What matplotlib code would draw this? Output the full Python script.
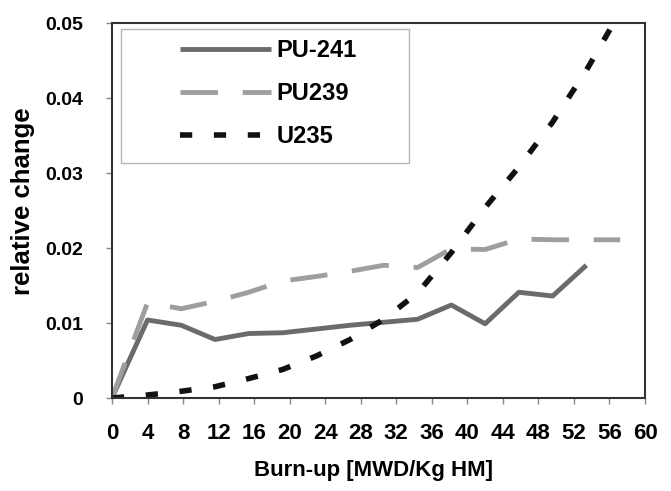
import matplotlib
matplotlib.use("Agg")
import matplotlib.pyplot as plt
from matplotlib.patches import Rectangle

plt.rcParams['font.family'] = ['Liberation Sans', 'DejaVu Sans']
plt.rcParams['font.weight'] = 'bold'

burnup = [0, 4, 7.8, 11.6, 15.4, 19.2, 23, 26.8, 30.6, 34.4, 38.2, 42, 45.8, 49.6, 53.4, 57.2]
pu241 = [0, 0.0104, 0.0097, 0.0078, 0.0086, 0.0087, 0.0092, 0.0097, 0.0101, 0.0105,
         0.0124, 0.0099, 0.0141, 0.0136, 0.0177]
pu239 = [0, 0.0127, 0.0119, 0.0129, 0.0141, 0.0156, 0.0162, 0.0169, 0.0177, 0.0174,
         0.0199, 0.0198, 0.0212, 0.0211, 0.0211, 0.0211]
u235 = [0, 0.0004, 0.0009, 0.0015, 0.0026, 0.0038, 0.0056, 0.0078, 0.0105, 0.0140,
        0.0194, 0.0254, 0.0308, 0.0368, 0.0437, 0.0515]
labels = ["PU-241", "PU239", "U235"]
xticks = list(range(0, 61, 4))
yticks = [0, 0.01, 0.02, 0.03, 0.04, 0.05]
ytick_labels = ["0", "0.01", "0.02", "0.03", "0.04", "0.05"]

fig = plt.figure(figsize=(6.71, 4.91), dpi=100)
ax = fig.add_axes([0.1669, 0.1894, 0.7944, 0.7637])

ax.plot(burnup[:len(pu241)], pu241, color='#6b6b6b', lw=3.5, solid_capstyle='butt', label=labels[0])
ax.plot(burnup[:len(pu239)], pu239, color='#9e9e9e', lw=3.5, dashes=(7.7, 5.1), label=labels[1])
ax.plot(burnup[:len(u235)], u235, color='#111111', lw=4, dashes=(2.2, 3.9), label=labels[2])

ax.set_xlim(0, 60)
ax.set_ylim(0, 0.05)
ax.set_xticks(xticks)
ax.set_xticklabels([str(t) for t in xticks])
ax.set_yticks(yticks)
ax.set_yticklabels(ytick_labels)

ax.tick_params(axis='x', direction='out', length=4, width=1, color='#888888', pad=14, labelsize=16)
ax.tick_params(axis='y', direction='out', length=4, width=1, color='#888888', pad=17, labelsize=14)
for s in ax.spines.values():
    s.set_color('#333333')
    s.set_linewidth(1.5)

ax.set_xlabel("Burn-up [MWD/Kg HM]", fontsize=16, fontweight='bold', va='center')
ax.xaxis.set_label_coords(0.49, -0.192)
ax.set_ylabel("relative change", fontsize=18.5, fontweight='bold', va='center')
ax.yaxis.set_label_coords(-0.167, 0.525)

leg = ax.legend(loc='upper left', bbox_to_anchor=(0.1276, 0.958), frameon=False,
                fontsize=17, handlelength=3.85, handletextpad=0.25, labelspacing=0.85,
                borderpad=0, borderaxespad=0)
ax.add_patch(Rectangle((0.017, 0.626), 0.541, 0.359, transform=ax.transAxes,
                       fill=False, edgecolor='#b5b5b5', lw=1, zorder=5))

fig.savefig("out.png", dpi=100)
